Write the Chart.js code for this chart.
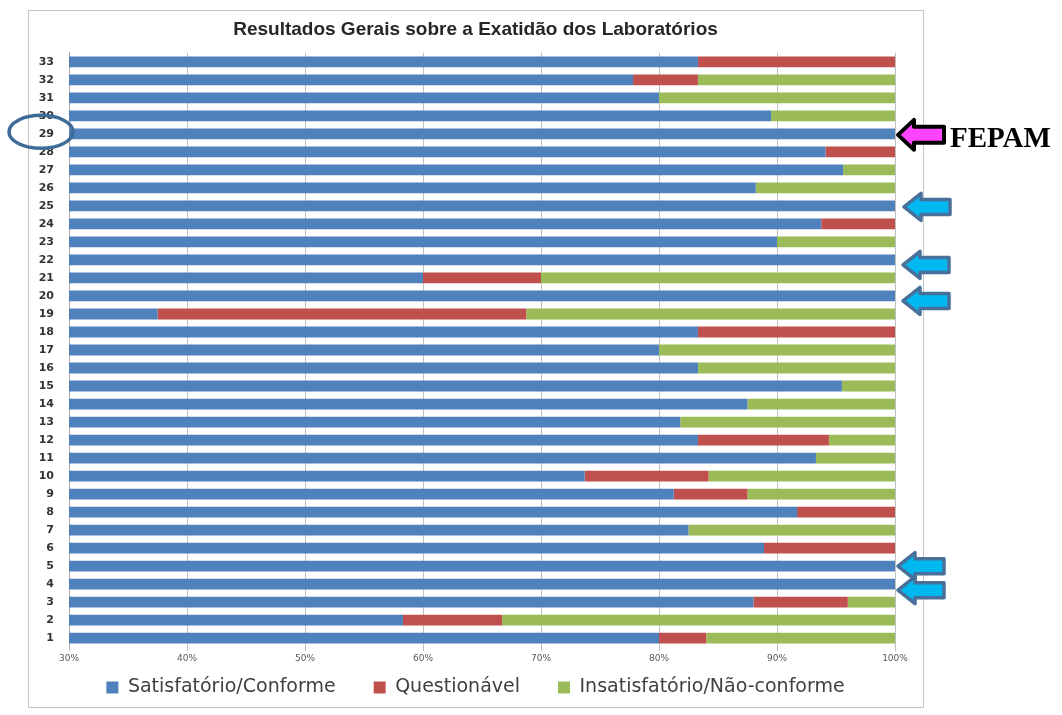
<!DOCTYPE html>
<html>
<head>
<meta charset="utf-8">
<script src="https://cdn.jsdelivr.net/npm/chart.js@4"></script>
<style>
  body { margin: 0; background: #fff; }
  #wrap { width: 1062px; height: 715px; }
</style>
</head>
<body>
<div id="wrap"><canvas id="chart"></canvas></div>
<script>
// ================= DATA =================
const labs = ["1","2","3","4","5","6","7","8","9","10","11","12","13","14","15","16","17",
              "18","19","20","21","22","23","24","25","26","27","28","29","30","31","32","33"];

const satisf = [80, 58.3, 88, 100, 100, 88.9, 82.5, 91.7, 81.25, 73.7, 93.3, 83.3, 81.8, 87.5, 95.5, 83.3, 80,
                83.3, 37.5, 100, 60, 100, 90, 93.75, 100, 88.2, 95.6, 94.1, 100, 89.5, 80, 77.8, 83.3];
const quest  = [4, 8.4, 8, 0, 0, 11.1, 0, 8.3, 6.25, 10.5, 0, 11.1, 0, 0, 0, 0, 0,
                16.7, 31.25, 0, 10, 0, 0, 6.25, 0, 0, 0, 5.9, 0, 0, 0, 5.5, 16.7];
const insat  = [16, 33.3, 4, 0, 0, 0, 17.5, 0, 12.5, 15.8, 6.7, 5.6, 18.2, 12.5, 4.5, 16.7, 20,
                0, 31.25, 0, 30, 0, 10, 0, 0, 11.8, 4.4, 0, 0, 10.5, 20, 16.7, 0];

const xTicks = [30, 40, 50, 60, 70, 80, 90, 100];

// ================= ANNOTATIONS (frame, circle, arrows) =================
function arrow(ctx, tipX, y, len, headW, headH, shaftH, fill, stroke, lw) {
    ctx.beginPath();
    ctx.moveTo(tipX, y);
    ctx.lineTo(tipX + headW, y - headH / 2);
    ctx.lineTo(tipX + headW, y - shaftH / 2);
    ctx.lineTo(tipX + len, y - shaftH / 2);
    ctx.lineTo(tipX + len, y + shaftH / 2);
    ctx.lineTo(tipX + headW, y + shaftH / 2);
    ctx.lineTo(tipX + headW, y + headH / 2);
    ctx.closePath();
    ctx.fillStyle = fill;
    ctx.fill();
    ctx.lineJoin = "round";
    ctx.lineWidth = lw;
    ctx.strokeStyle = stroke;
    ctx.stroke();
}

// legend is fitted with a small padding, then drawn with wider gaps between items
const GAP = 38, FIT_PAD = 12;
const legendGaps = {
    id: "legendGaps",
    afterLayout(chart) {
        const lg = chart.legend;
        const extra = GAP - FIT_PAD;
        const lab = Object.create(lg.options.labels);
        Object.defineProperty(lab, "padding", { value: GAP });
        const o = Object.create(lg.options);
        Object.defineProperty(o, "labels", { value: lab });
        lg.options = o;
        lg.top -= extra;
        lg.lineWidths = lg.lineWidths.map(w => w + extra * lg.legendItems.length);
    }
};

const extras = {
    id: "extras",
    beforeDraw(chart) {
        const ctx = chart.ctx;
        ctx.save();
        ctx.strokeStyle = "#c4c4c4";
        ctx.lineWidth = 1;
        ctx.strokeRect(28.5, 10.5, 895, 697);
        ctx.restore();
    },
    afterDraw(chart) {
        const ctx = chart.ctx;
        const y = chart.scales.y;
        const right = chart.chartArea.right;
        const rowY = lab => y.getPixelForValue(labs.indexOf(lab));
        ctx.save();

        // circle round label 29
        ctx.beginPath();
        ctx.ellipse(41, rowY("29") - 2, 32, 16.5, 0, 0, Math.PI * 2);
        ctx.lineWidth = 3.5;
        ctx.strokeStyle = "#3f6b99";
        ctx.stroke();

        // FEPAM arrow
        arrow(ctx, right + 3, rowY("29") + 1, 46, 16, 30, 16, "#ff44ff", "#000", 4);
        ctx.fillStyle = "#000";
        ctx.font = "bold 29px 'Liberation Serif'";
        ctx.textBaseline = "middle";
        ctx.fillText("FEPAM", right + 55, rowY("29") + 6);

        // blue arrows
        const blue = [["25", 9, 1], ["22", 8, 5], ["20", 8, 5], ["5", 3, 0], ["4", 3, 6]];
        blue.forEach(([lab, dx, dy]) => {
            arrow(ctx, right + dx, rowY(lab) + dy, 46, 17, 27, 15, "#00b8f0", "#49709a", 3.5);
        });
        ctx.restore();
    }
};

// ================= CHART =================
new Chart(document.getElementById("chart"), {
    type: "bar",
    data: {
        labels: labs,
        datasets: [
            { label: "Satisfatório/Conforme", data: satisf, backgroundColor: "#4f81bd" },
            { label: "Questionável", data: quest, backgroundColor: "#c0504d" },
            { label: "Insatisfatório/Não-conforme", data: insat, backgroundColor: "#9bbb59" }
        ]
    },
    options: {
        indexAxis: "y",
        responsive: true,
        maintainAspectRatio: false,
        animation: false,
        categoryPercentage: 1,
        barPercentage: 0.6,
        layout: { padding: { top: 18, bottom: 8, left: 28, right: 139 } },
        scales: {
            x: {
                type: "linear",
                stacked: true,
                min: 30,
                max: 100,
                afterBuildTicks: s => { s.ticks = xTicks.map(v => ({ value: v })); },
                ticks: {
                    callback: v => v + "%",
                    font: { family: "DejaVu Sans", size: 9 },
                    color: "#595959",
                    padding: 2
                },
                grid: { color: "#c0c0c0", tickLength: 4 },
                border: { display: false }
            },
            y: {
                type: "category",
                stacked: true,
                reverse: true,
                afterFit: s => { s.width = 41; },
                ticks: {
                    font: { family: "DejaVu Sans", size: 11, weight: "bold" },
                    color: "#333",
                    padding: 15
                },
                grid: { display: false, drawTicks: false },
                border: { color: "#a6a6a6" }
            },
            y2: {
                type: "category",
                position: "right",
                afterFit: s => { s.width = 28; },
                ticks: { display: false },
                grid: { display: false, drawTicks: false },
                border: { display: false }
            }
        },
        plugins: {
            title: {
                display: true,
                text: "Resultados Gerais sobre a Exatidão dos Laboratórios",
                font: { family: "Liberation Sans", size: 19, weight: "bold" },
                color: "#262626",
                padding: { top: 0, bottom: 12 }
            },
            legend: {
                position: "bottom",
                labels: {
                    boxWidth: 12,
                    boxHeight: 12,
                    padding: FIT_PAD,
                    color: "#404040",
                    font: { family: "DejaVu Sans", size: 19 }
                }
            },
            tooltip: { enabled: false }
        }
    },
    plugins: [legendGaps, extras]
});
</script>
</body>
</html>
